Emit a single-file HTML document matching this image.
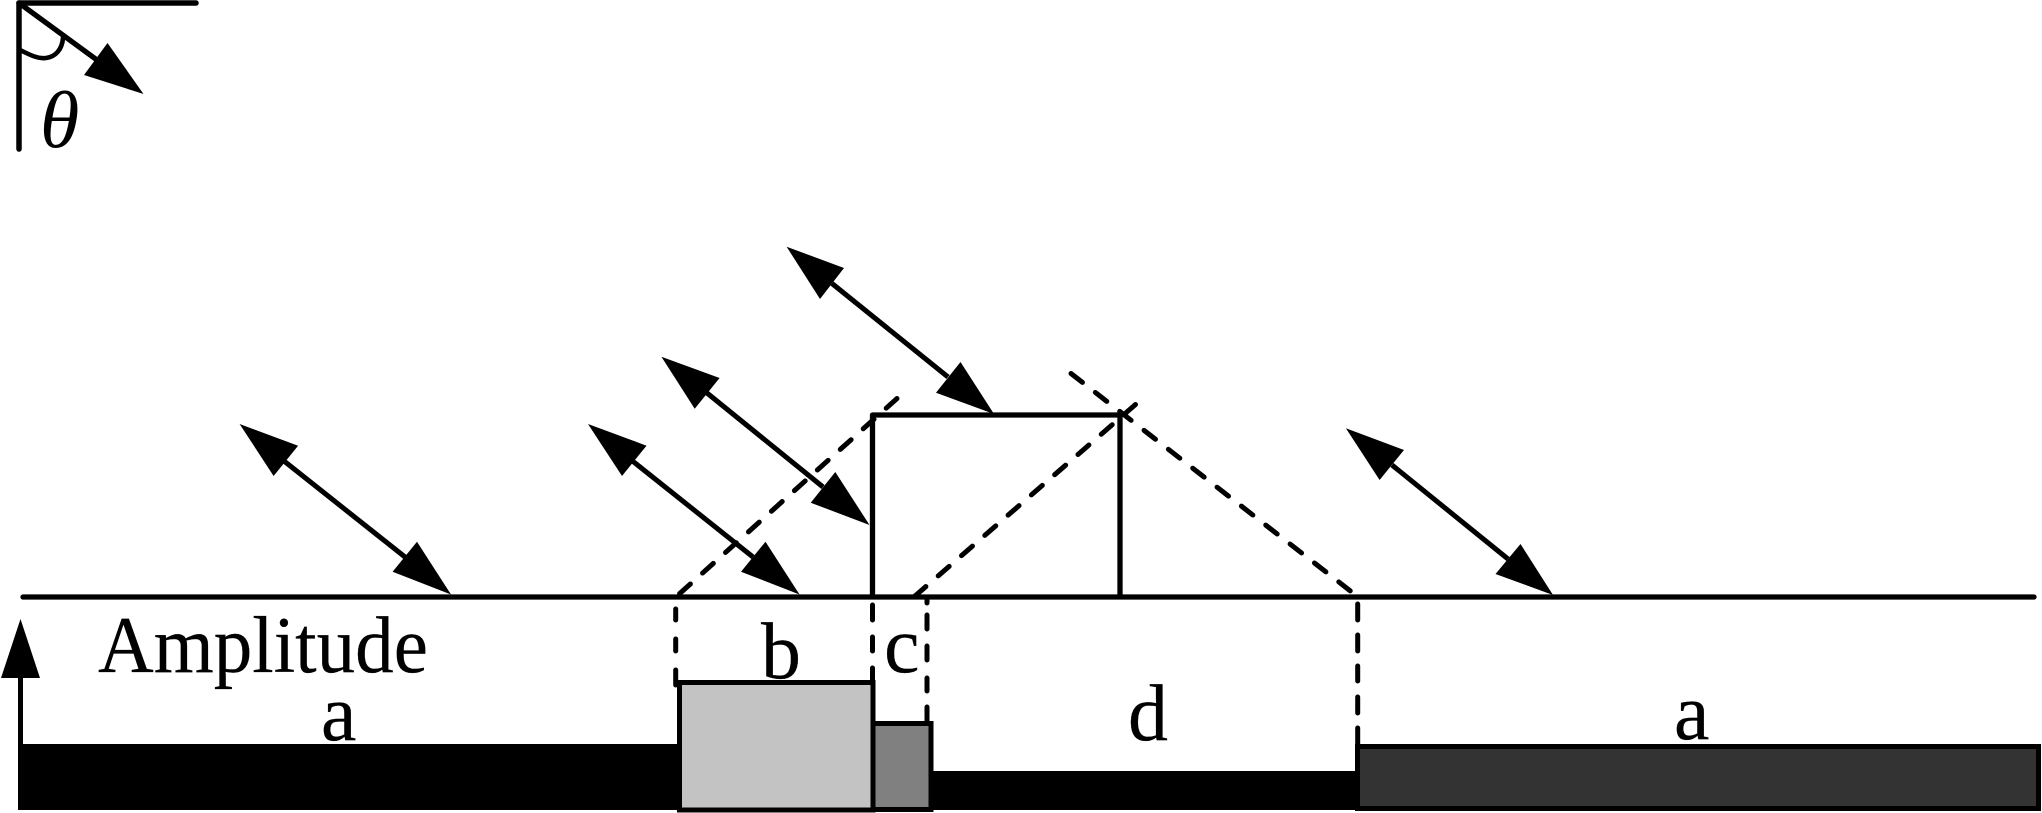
<!DOCTYPE html>
<html>
<head>
<meta charset="utf-8">
<style>
html,body{margin:0;padding:0;background:#fff;width:2042px;height:813px;overflow:hidden}
svg{display:block}
text{font-family:"Liberation Serif",serif;font-size:80px;fill:#000;stroke:#000;stroke-width:.2px}
</style>
</head>
<body>
<svg width="2042" height="813" viewBox="0 0 2042 813" xmlns="http://www.w3.org/2000/svg">
<rect width="2042" height="813" fill="#fff"/>

<!-- top-left angle marker -->
<g stroke="#000" stroke-linecap="round" fill="none">
  <line x1="19" y1="3" x2="19" y2="149" stroke-width="5.5"/>
  <line x1="19" y1="3" x2="196" y2="3" stroke-width="5.5"/>
  <line x1="19" y1="3" x2="97" y2="60" stroke-width="5.3"/>
  <path d="M20 50 C30 55 38 59 46 58 C55 57 62 50 63 38" stroke-width="4.6"/>
</g>
<polygon points="143.5,94 107.5,43 84,75" fill="#000"/>
<text x="40" y="147" style="font-size:80px;font-style:italic;stroke-width:0">θ</text>

<!-- baseline & raised block -->
<g stroke="#000" stroke-linecap="round" fill="none" stroke-width="5.3">
  <line x1="23" y1="597" x2="2034" y2="597"/>
  <path d="M872.5 597 V415 H1120 V597" stroke-linecap="butt" stroke-linejoin="round"/>
</g>

<!-- double arrows -->
<g stroke="#000" stroke-width="5" fill="none">
  <line x1="284" y1="461" x2="405" y2="557"/>
  <line x1="632.5" y1="461" x2="753" y2="557"/>
  <line x1="707" y1="393" x2="823" y2="487"/>
  <line x1="832" y1="283.5" x2="948" y2="377"/>
  <line x1="1392" y1="465" x2="1508" y2="559"/>
  <line x1="20.5" y1="670" x2="20.5" y2="750"/>
</g>
<g fill="#000">
  <polygon points="239.6,424 298.1,445.7 273.6,476"/>
  <polygon points="451,594.5 417,541.7 392.6,571.7"/>
  <polygon points="588,424 646.5,445.7 622,476"/>
  <polygon points="799.5,594.5 765.5,541.7 741,571.7"/>
  <polygon points="661.4,356.7 719.6,378 694.7,408.7"/>
  <polygon points="869.5,525 835.3,472 810.7,502.7"/>
  <polygon points="786.6,246.7 844,268 820,299"/>
  <polygon points="994,414 960.5,362 936,392.7"/>
  <polygon points="1345.9,428.3 1404,450 1379.6,480"/>
  <polygon points="1553,595 1520.5,544 1495.5,574"/>
  <polygon points="20.5,619 1,678 40,678"/>
</g>

<!-- dashed diagonals -->
<g stroke="#000" stroke-width="5" stroke-linecap="round" fill="none" stroke-dasharray="14.5 16.35">
  <line x1="897" y1="398.5" x2="677" y2="596"/>
  <line x1="1135.5" y1="404.5" x2="915" y2="596"/>
  <line x1="1071" y1="373.5" x2="1353" y2="593"/>
</g>

<!-- dashed verticals -->
<g stroke="#000" stroke-width="5" stroke-linecap="round" fill="none">
  <path d="M675.7 609 V620 M675.7 639 V651 M675.7 670 V685"/>
  <path d="M872.5 605 V620 M872.5 637 V651 M872.5 668 V680"/>
  <path d="M927 600 V603 M927 615 V629 M927 646 V660 M927 678 V691 M927 707 V723"/>
  <path d="M1357.7 604 V620 M1357.7 635 V651 M1357.7 666 V681 M1357.7 697 V713 M1357.7 728 V746"/>
</g>

<!-- amplitude bars -->
<rect x="18" y="744" width="664" height="66" fill="#000"/>
<rect x="930" y="771" width="430" height="39" fill="#000"/>
<rect x="679.5" y="682.5" width="193.5" height="127.5" fill="#c3c3c3" stroke="#000" stroke-width="5"/>
<rect x="873" y="723.5" width="58" height="86" fill="#808080" stroke="#000" stroke-width="5"/>
<rect x="1357.5" y="746.5" width="681" height="62" fill="#333" stroke="#000" stroke-width="5"/>

<!-- labels -->
<text x="98" y="672" textLength="330" lengthAdjust="spacingAndGlyphs">Amplitude</text>
<text x="321" y="740">a</text>
<text x="761" y="678">b</text>
<text x="884" y="672">c</text>
<text x="1128" y="740">d</text>
<text x="1674" y="739">a</text>
</svg>
</body>
</html>
